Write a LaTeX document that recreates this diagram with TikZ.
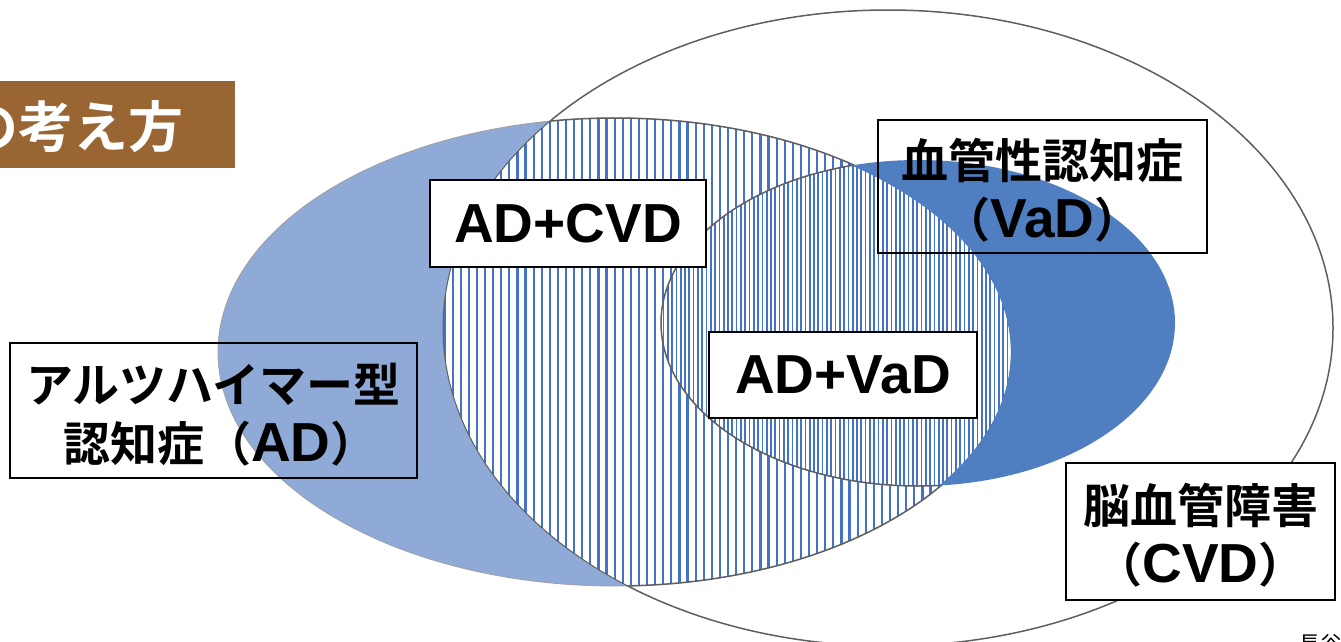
\documentclass[tikz,border=0pt]{standalone}
\usepackage{fontspec}
\setmainfont{Liberation Sans}
\newfontfamily\jp{Noto Sans CJK JP}[BoldFont={Noto Sans CJK JP Bold}]
\newfontfamily\latf{Liberation Sans}
\newcommand\LT[1]{{\latf\bfseries\fontsize{55}{59}\selectfont #1}}
\definecolor{adblue}{RGB}{143,170,214}
\definecolor{vadblue}{RGB}{79,126,193}
\definecolor{hatchblue}{RGB}{68,114,196}
\definecolor{outlinegray}{RGB}{95,95,95}
\definecolor{titlebrown}{RGB}{153,102,51}
\begin{document}
\begin{tikzpicture}[x=1pt,y=-1pt,
  cvdshape/.style={insert path={(888,328) ellipse [x radius=445, y radius=318]}},
  adshape/.style={insert path={(615,352) ellipse [x radius=397, y radius=234]}},
  adinner/.style={insert path={(615,352) ellipse [x radius=395.8, y radius=232.8]}},
  vadshape/.style={insert path={(918,323) ellipse [x radius=257, y radius=163]}},
  outl/.style={draw=outlinegray, line width=1.5pt},
  hatch/.style={draw=hatchblue, line width=2.2pt},
  densehatch/.style={draw=hatchblue, line width=1.7pt},
  box/.style={draw=black, line width=2pt, inner sep=0pt, align=center,
    font=\jp\bfseries\fontsize{47}{59}\selectfont},
  boxtext/.style={inner sep=0pt, align=center,
    font=\jp\bfseries\fontsize{47}{59}\selectfont},
]
\useasboundingbox (0,0) rectangle (1341,642);
\fill[white] (0,0) rectangle (1341,642);
% CVD ellipse
\draw[outl, fill=white, cvdshape];
% AD ellipse (light blue)
\path[fill=adblue, draw=outlinegray!60, line width=0.8pt, adshape];
% AD and CVD: sparse hatch
\begin{scope}
  \clip[adshape];
  \clip[cvdshape];
  \fill[white] (400,100) rectangle (1030,600);
  \foreach \x in {404,412.1,...,1030} \draw[hatch] (\x,100) -- (\x,600);
\end{scope}
% AD and VaD: dense hatch
\begin{scope}
  \clip[adshape];
  \clip[vadshape];
  \fill[white] (640,140) rectangle (1030,500);
  \foreach \x in {642,646.3,...,1030} \draw[densehatch] (\x,140) -- (\x,500);
\end{scope}
% outlines inside AD
\begin{scope}
  \clip[adshape];
  \draw[outl, vadshape];
  \draw[outl, line width=1pt, cvdshape];
\end{scope}
\begin{scope}
  \clip[cvdshape];
  \draw[outl, adshape];
\end{scope}
% VaD without AD: dark blue
\begin{scope}
  \clip[vadshape];
  \fill[vadblue, even odd rule] (600,100) rectangle (1200,520) [adinner];
\end{scope}
% title
\node[fill=titlebrown, minimum width=235, minimum height=87, inner sep=0pt, anchor=north west] (titlebox) at (0,81) {};
\node[anchor=east, inner sep=0pt, text=white, font=\jp\bfseries\fontsize{55}{55}\selectfont] (title) at (184,127) {の考え方};
% boxes
\node[box, fill=white, minimum width=276, minimum height=87] (adcvd) at (568,223.5) {\LT{AD+CVD}};
\node[box, minimum width=329, minimum height=133] (vad) at (1042.5,186.5) {};
\node[boxtext] (vadtext) at (1042.5,190.5) {血管性認知症\\（\LT{VaD}）};
\node[box, fill=white, minimum width=268, minimum height=86] (advad) at (843,375) {\LT{AD+VaD}};
\node[box, minimum width=407, minimum height=135] (ad) at (213.5,410.5) {};
\node[boxtext] (adtext) at (213.5,414.5) {アルツハイマー型\\\hspace*{14pt}認知症（\LT{AD}）};
\node[box, fill=white, minimum width=269, minimum height=137] (cvd) at (1200.5,531.5) {};
\node[boxtext] (cvdtext) at (1200.5,535.5) {脳血管障害\\（\LT{CVD}）};
% cut-off source note
\node[anchor=base west, inner sep=0pt, font=\jp\fontsize{22}{22}\selectfont] (src) at (1298,652) {長谷};
\end{tikzpicture}
\end{document}
